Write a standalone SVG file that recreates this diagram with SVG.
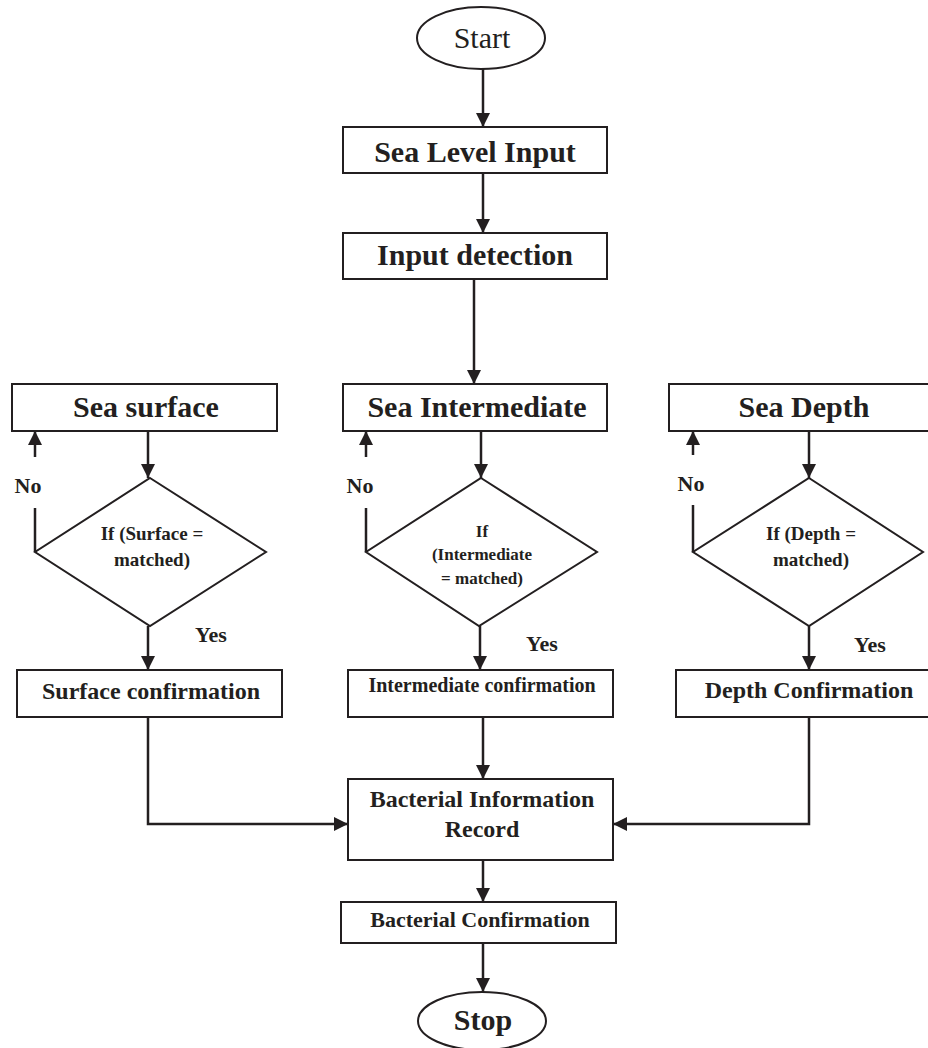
<svg xmlns="http://www.w3.org/2000/svg" width="928" height="1048" viewBox="0 0 928 1048">
<defs>
<style>
.box{fill:#fff;stroke:#231f20;stroke-width:2}
.ln{fill:none;stroke:#231f20;stroke-width:2.5}
.t{font-family:"Liberation Serif","Times New Roman",serif;font-weight:bold;fill:#231f20;text-anchor:middle}
</style>
<marker id="ah" markerUnits="userSpaceOnUse" markerWidth="14" markerHeight="14" viewBox="0 0 14 14" refX="14" refY="7" orient="auto">
<path d="M0,0 L14,7 L0,14 Z" fill="#231f20"/>
</marker>
</defs>
<rect width="928" height="1048" fill="#fff"/>
<g id="connectors">
<line class="ln" x1="483" y1="69" x2="483" y2="127" marker-end="url(#ah)"/>
<line class="ln" x1="483" y1="173" x2="483" y2="233" marker-end="url(#ah)"/>
<line class="ln" x1="474" y1="279" x2="474" y2="384" marker-end="url(#ah)"/>
<line class="ln" x1="148" y1="431" x2="148" y2="478" marker-end="url(#ah)"/>
<line class="ln" x1="481" y1="431" x2="481" y2="478" marker-end="url(#ah)"/>
<line class="ln" x1="809" y1="431" x2="809" y2="478" marker-end="url(#ah)"/>
<line class="ln" x1="148" y1="626" x2="148" y2="670" marker-end="url(#ah)"/>
<line class="ln" x1="480" y1="626" x2="480" y2="670" marker-end="url(#ah)"/>
<line class="ln" x1="809" y1="626" x2="809" y2="670" marker-end="url(#ah)"/>
<line class="ln" x1="35" y1="552" x2="35" y2="508"/>
<line class="ln" x1="35" y1="457" x2="35" y2="431" marker-end="url(#ah)"/>
<line class="ln" x1="366" y1="552" x2="366" y2="508"/>
<line class="ln" x1="366" y1="457" x2="366" y2="431" marker-end="url(#ah)"/>
<line class="ln" x1="693" y1="552" x2="693" y2="505"/>
<line class="ln" x1="693" y1="455" x2="693" y2="431" marker-end="url(#ah)"/>
<polyline class="ln" points="148,717 148,824 348,824" marker-end="url(#ah)"/>
<polyline class="ln" points="809,717 809,824 613,824" marker-end="url(#ah)"/>
<line class="ln" x1="483" y1="717" x2="483" y2="779" marker-end="url(#ah)"/>
<line class="ln" x1="483" y1="860" x2="483" y2="902" marker-end="url(#ah)"/>
<line class="ln" x1="483" y1="943" x2="483" y2="992" marker-end="url(#ah)"/>
</g>
<g id="start">
<ellipse class="box" cx="481" cy="38" rx="64" ry="31"/>
<text class="t" x="482" y="48" font-size="30" font-weight="normal" style="font-weight:normal">Start</text>
</g>
<g id="sea-level-input">
<rect class="box" x="343" y="127" width="264" height="46"/>
<text class="t" x="475" y="162" font-size="30">Sea Level Input</text>
</g>
<g id="input-detection">
<rect class="box" x="343" y="233" width="264" height="46"/>
<text class="t" x="475" y="265" font-size="30">Input detection</text>
</g>
<g id="sea-surface">
<rect class="box" x="12" y="384" width="265" height="47"/>
<text class="t" x="146" y="417" font-size="30">Sea surface</text>
</g>
<g id="sea-intermediate">
<rect class="box" x="343" y="384" width="264" height="47"/>
<text class="t" x="477" y="417" font-size="30">Sea Intermediate</text>
</g>
<g id="sea-depth">
<rect class="box" x="669" y="384" width="270" height="47"/>
<text class="t" x="804" y="417" font-size="30">Sea Depth</text>
</g>
<g id="surface-decision">
<polygon class="box" points="150,478 266,552 150,626 35,552"/>
<text class="t" x="152" y="540" font-size="19">If (Surface =</text>
<text class="t" x="152" y="566" font-size="19">matched)</text>
</g>
<g id="intermediate-decision">
<polygon class="box" points="481,478 597,552 479,626 366,552"/>
<text class="t" x="482" y="537" font-size="17">If</text>
<text class="t" x="482" y="560" font-size="17">(Intermediate</text>
<text class="t" x="482" y="584" font-size="17">= matched)</text>
</g>
<g id="depth-decision">
<polygon class="box" points="809,478 923,552 809,626 693,552"/>
<text class="t" x="811" y="540" font-size="19">If (Depth =</text>
<text class="t" x="811" y="566" font-size="19">matched)</text>
</g>
<g id="labels">
<text class="t" x="28" y="493" font-size="22">No</text>
<text class="t" x="360" y="493" font-size="22">No</text>
<text class="t" x="691" y="491" font-size="22">No</text>
<text class="t" x="211" y="642" font-size="22">Yes</text>
<text class="t" x="542" y="651" font-size="22">Yes</text>
<text class="t" x="870" y="652" font-size="22">Yes</text>
</g>
<g id="surface-confirmation">
<rect class="box" x="17" y="670" width="265" height="47"/>
<text class="t" x="151" y="699" font-size="24">Surface confirmation</text>
</g>
<g id="intermediate-confirmation">
<rect class="box" x="348" y="670" width="265" height="47"/>
<text class="t" x="482" y="692" font-size="20">Intermediate confirmation</text>
</g>
<g id="depth-confirmation">
<rect class="box" x="676" y="670" width="262" height="47"/>
<text class="t" x="809" y="698" font-size="24">Depth Confirmation</text>
</g>
<g id="bacterial-information-record">
<rect class="box" x="348" y="779" width="265" height="81"/>
<text class="t" x="482" y="807" font-size="24">Bacterial Information</text>
<text class="t" x="482" y="837" font-size="24">Record</text>
</g>
<g id="bacterial-confirmation">
<rect class="box" x="341" y="902" width="275" height="41"/>
<text class="t" x="480" y="927" font-size="22">Bacterial Confirmation</text>
</g>
<g id="stop">
<ellipse class="box" cx="482" cy="1021" rx="64" ry="29"/>
<text class="t" x="483" y="1030" font-size="30">Stop</text>
</g>
</svg>
